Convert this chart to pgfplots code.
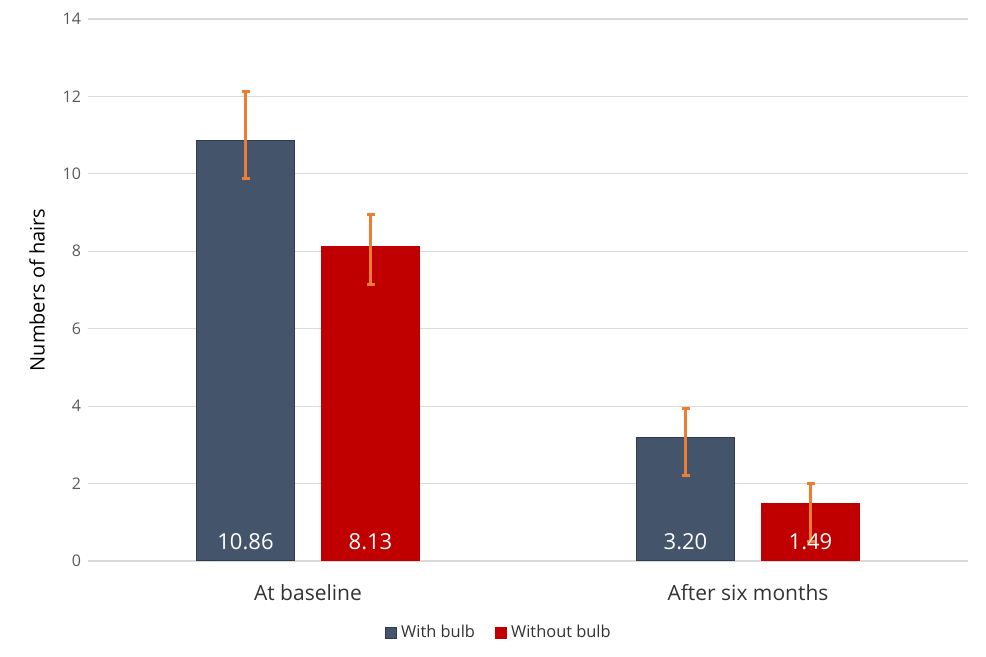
\documentclass[border=0pt]{standalone}
\usepackage{pgfplots}
\pgfplotsset{compat=1.18}
\usepackage{fontspec}
\setmainfont{Open Sans}
\definecolor{withb}{HTML}{44546A}
\definecolor{withbd}{HTML}{2E3B4E}
\definecolor{withoutb}{HTML}{C00000}
\definecolor{errc}{HTML}{ED7D31}
\definecolor{gridc}{HTML}{D9D9D9}
\definecolor{txt}{HTML}{595959}
\begin{document}
\begin{tikzpicture}
\path[use as bounding box] (0,0) rectangle (493pt,328.5pt);
\begin{axis}[
  at={(44pt,48pt)}, anchor=south west,
  scale only axis, width=440pt, height=271pt,
  ybar,
  bar width=49pt,
  xmin=-0.5, xmax=1.5,
  ymin=0, ymax=14,
  ytick={0,2,...,14},
  xtick={0,1},
  xticklabels={At baseline, After six months},
  major tick length=0pt,
  axis x line*=bottom,
  axis y line*=left,
  y axis line style={draw=none},
  x axis line style={gridc, line width=0.6pt},
  ymajorgrids,
  grid style={gridc, line width=0.6pt},
  /pgf/number format/assume math mode=true,
  yticklabel style={font=\fontsize{8}{9}\selectfont, text=txt, xshift=0pt},
  ytick style={draw=none},
  xtick style={draw=none},
  xticklabel style={font=\fontsize{10.5}{12}\selectfont, text=black!80, yshift=-8pt},
  ylabel={Numbers of hairs},
  ylabel style={font=\fontsize{10.5}{12}\selectfont, text=black!80},
  every axis y label/.style={at={(rel axis cs:0,0.5)}, rotate=90, anchor=center, yshift=25.5pt},
  legend style={at={(0.468,-0.133)}, anchor=center, draw=none, legend columns=2,
    font=\fontsize{8.2}{9}\selectfont, text=black!80,
    /tikz/every even column/.append style={column sep=8pt}},
  legend image code/.code={\draw[#1] (0pt,-2.8pt) rectangle (5.6pt,2.8pt);},
  clip=false,
]
\addplot[fill=withb, draw=withbd, line width=0.5pt, bar shift=-31.25pt,
  error bars/.cd, y dir=both, y explicit,
  error bar style={errc, line width=1.5pt},
  error mark options={rotate=90, errc, mark size=2pt, line width=1.5pt}]
  coordinates {(0,10.86) +=(0,1.27) -=(0,0.98) (1,3.20) +=(0,0.74) -=(0,0.98)};
\addlegendentry{With bulb}
\addplot[fill=withoutb, draw=withoutb, line width=0.5pt, bar shift=31.25pt,
  error bars/.cd, y dir=both, y explicit,
  error bar style={errc, line width=1.5pt},
  error mark options={rotate=90, errc, mark size=2pt, line width=1.5pt}]
  coordinates {(0,8.13) +=(0,0.81) -=(0,1.00) (1,1.49) +=(0,0.52) -=(0,0.99)};
\addlegendentry{Without bulb}
% data labels at the bar bases
\addplot[forget plot, draw=none, fill=none, bar shift=-31.25pt,
  point meta=explicit symbolic, nodes near coords,
  nodes near coords style={anchor=south, yshift=2pt, text=white, font=\fontsize{11}{12}\selectfont}]
  coordinates {(0,0)[10.86] (1,0)[3.20]};
\addplot[forget plot, draw=none, fill=none, bar shift=31.25pt,
  point meta=explicit symbolic, nodes near coords,
  nodes near coords style={anchor=south, yshift=2pt, text=white, font=\fontsize{11}{12}\selectfont}]
  coordinates {(0,0)[8.13] (1,0)[1.49]};
\end{axis}
\end{tikzpicture}
\end{document}
